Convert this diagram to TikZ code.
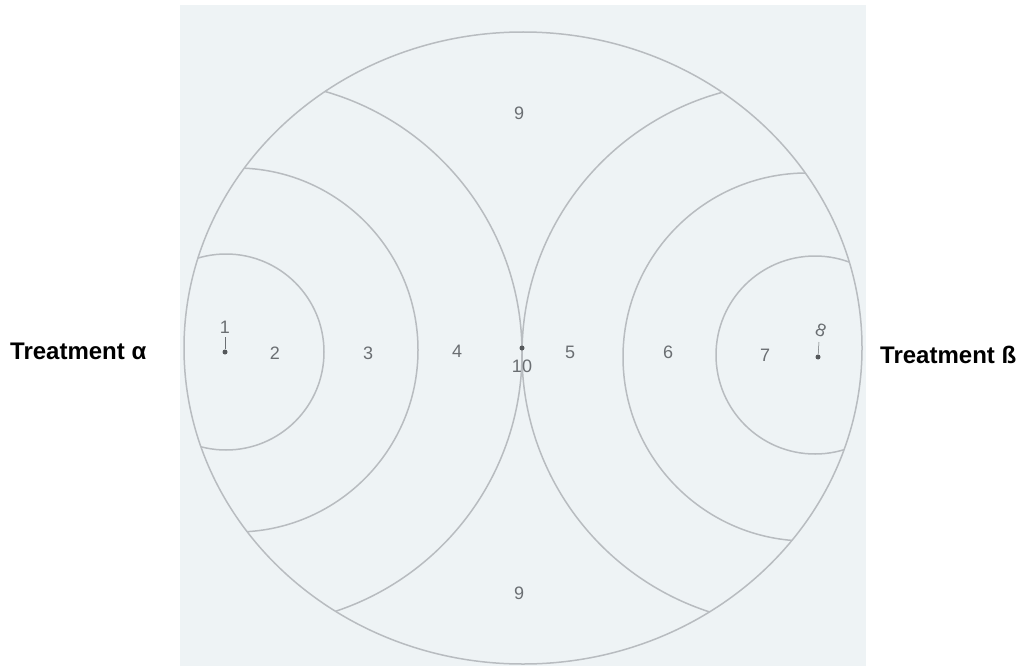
\documentclass[tikz,border=0pt]{standalone}
\usepackage{fontspec}
\setmainfont{Liberation Sans}
\definecolor{paper}{HTML}{EEF3F5}
\definecolor{pencil}{HTML}{B8BCC0}
\definecolor{digit}{HTML}{6A6E72}
\tikzset{
  arcline/.style={draw=pencil, line width=1.5pt},
  num/.style={text=digit, font=\fontsize{18}{18}\selectfont, inner sep=0pt},
  treat/.style={font=\fontsize{24}{24}\selectfont\bfseries, text=black, inner sep=0pt},
  pt/.style={circle, fill=digit!80!black, inner sep=0pt, minimum size=5pt}
}
\begin{document}
\begin{tikzpicture}[x=1pt,y=-1pt]
\useasboundingbox (0,0) rectangle (1024,666);
\fill[white] (0,0) rectangle (1024,666);
\fill[paper] (180,5) rectangle (866,666);
% big circle
\begin{scope}
\clip (523,348) ellipse [x radius=339, y radius=316];
\draw[arcline] (226,352) circle [radius=98];
\draw[arcline] (236,350) circle [radius=182];
\draw[arcline] (250,353) circle [radius=272];
\draw[arcline] (815,355) circle [radius=99];
\draw[arcline] (807,357) circle [radius=184];
\draw[arcline] (793,354) circle [radius=271];
\end{scope}
\draw[arcline] (523,348) ellipse [x radius=339, y radius=316];
% points
\node[pt] (p1) at (225,352) {};
\node[pt] (p10) at (522,348) {};
\node[pt] (p8) at (818,357) {};
\draw[digit, line width=0.5pt] (225,337) -- (p1);
\draw[digit, line width=0.5pt] (819,342) -- (p8);
% labels
\node[num] (n1) at (225,327) {1};
\node[num] (n2) at (275,353) {2};
\node[num] (n3) at (368,353) {3};
\node[num] (n4) at (457,351) {4};
\node[num] (n10) at (522,366) {10};
\node[num] (n5) at (570,352) {5};
\node[num] (n6) at (668,352) {6};
\node[num] (n7) at (765,355) {7};
\node[num, rotate=-20] (n8) at (821,330) {8};
\node[num] (n9a) at (519,113) {9};
\node[num] (n9b) at (519,593) {9};
\node[treat, anchor=west] (ta) at (10,351) {Treatment α};
\node[treat, anchor=west] (tb) at (880,355) {Treatment ß};
\end{tikzpicture}
\end{document}
